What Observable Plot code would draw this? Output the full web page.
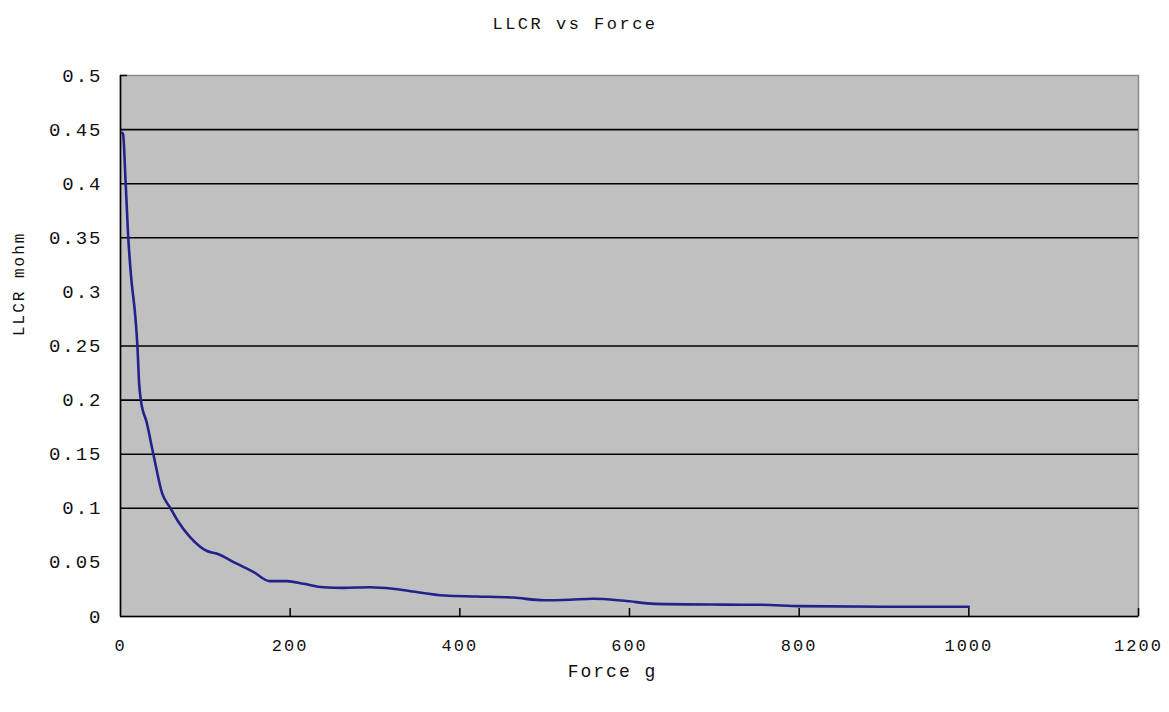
<!DOCTYPE html>
<html>
<head>
<meta charset="utf-8">
<script src="https://cdn.jsdelivr.net/npm/d3@7"></script>
<script src="https://cdn.jsdelivr.net/npm/@observablehq/plot@0.6"></script>
<style>
  html, body { margin: 0; padding: 0; background: #fff; }
  #wrap { position: relative; width: 1169px; height: 712px; }
  #title { position: absolute; left: 0; top: 15px; width: 1150px; text-align: center;
           font-family: "Liberation Mono", monospace; font-size: 17px; letter-spacing: 2.5px; color: #111; }
  #chart { position: absolute; left: 0; top: 50px; }
</style>
</head>
<body>
<div id="wrap">
  <div id="title">LLCR vs Force</div>
  <div id="chart"></div>
</div>
<script>
const titleText = "LLCR vs Force";
const xLabel = "Force g";
const yLabel = "LLCR mohm";

const force = [2, 3, 6, 9, 12.5, 17.5, 20, 22, 24, 31, 39, 49, 59, 67, 82, 102, 114, 137, 157, 176, 196, 216, 239, 263, 294, 321, 342, 382, 420, 463, 499, 530, 557, 594, 630, 711, 756, 801, 900, 1000];
const llcr  = [0.447, 0.446, 0.402, 0.352, 0.314, 0.277, 0.249, 0.215, 0.200, 0.179, 0.149, 0.114, 0.100, 0.089, 0.0734, 0.0605, 0.058, 0.0488, 0.041, 0.0327, 0.0327, 0.0302, 0.027, 0.0265, 0.027, 0.0256, 0.0234, 0.0194, 0.0185, 0.0175, 0.015, 0.0155, 0.0164, 0.0145, 0.0117, 0.011, 0.0108, 0.0096, 0.009, 0.009];

const xTicks = [0, 200, 400, 600, 800, 1000, 1200];
const yTicks = [0, 0.05, 0.1, 0.15, 0.2, 0.25, 0.3, 0.35, 0.4, 0.45, 0.5];
const yGrid  = [0.1, 0.15, 0.2, 0.25, 0.35, 0.4, 0.45];
const yInnerTicks = [0.5];

const data = force.map((f, i) => ({force: f, llcr: llcr[i]}));
const mono = "Liberation Mono, monospace";

const chart = Plot.plot({
  width: 1169,
  height: 662,
  marginLeft: 120,
  marginRight: 31,
  marginTop: 25,
  marginBottom: 96,
  style: {fontFamily: mono, letterSpacing: "2px", color: "#111", background: "transparent"},
  x: {domain: [0, 1200]},
  y: {domain: [0, 0.5]},
  marks: [
    Plot.frame({fill: "#c0c0c0", stroke: "#8a8a8a", strokeWidth: 1.5}),
    Plot.ruleY(yGrid, {stroke: "#000", strokeWidth: 1.6}),
    Plot.ruleY(yInnerTicks, {x1: 0, x2: 0, insetRight: -7, stroke: "#000", strokeWidth: 1.5}),
    Plot.ruleX(xTicks.slice(1), {y1: 0, y2: 0, insetTop: -8, stroke: "#000", strokeWidth: 1.5}),
    Plot.ruleX([0], {stroke: "#000", strokeWidth: 1.6}),
    Plot.ruleY([0], {stroke: "#000", strokeWidth: 1.6}),
    Plot.line(data, {x: "force", y: "llcr", stroke: "#22228a", strokeWidth: 2.6, curve: "monotone-x"}),
    Plot.axisY(yTicks, {tickSize: 0, tickPadding: 18, fontSize: 19, label: null, tickFormat: d => String(d)}),
    Plot.axisX(xTicks, {tickSize: 0, tickPadding: 22, fontSize: 17, label: null, tickFormat: d => String(d)}),
    Plot.text([xLabel], {frameAnchor: "bottom", dy: 60, dx: -17, fontSize: 18}),
    Plot.text([yLabel], {frameAnchor: "left", dx: -102, dy: -10, rotate: -90, fontSize: 16})
  ]
});
document.getElementById("chart").appendChild(chart);
document.getElementById("title").textContent = titleText;
</script>
</body>
</html>
